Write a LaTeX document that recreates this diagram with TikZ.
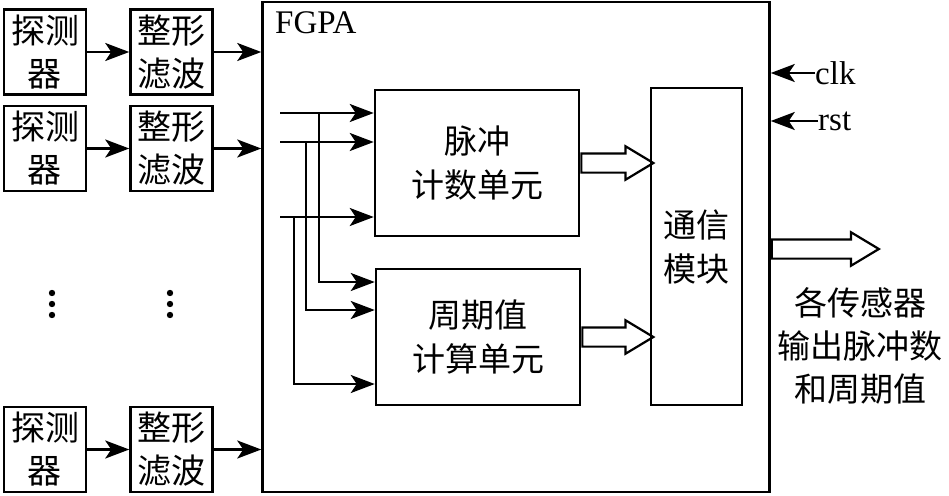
\documentclass[tikz,border=0pt]{standalone}
\usepackage{fontspec}
\setmainfont{Liberation Serif}
\newfontfamily\cjk{Noto Sans CJK SC}
\usetikzlibrary{arrows.meta, positioning, shapes.arrows}

\begin{document}
\begin{tikzpicture}[x=1pt, y=-1pt,
    node distance=9pt and 42pt,
    box/.style={rectangle, draw=black, line width=2.5pt, minimum width=82pt, minimum height=85pt,
                inner sep=0pt, align=center, font=\cjk\fontsize{34}{43}\selectfont},
    unit/.style={rectangle, draw=black, line width=2.5pt, inner sep=0pt, align=center,
                 font=\cjk\fontsize{33}{44}\selectfont},
    arrow/.style={-{Stealth[length=24pt, width=18pt, inset=6pt]}, line width=2.5pt},
    bus/.style={single arrow, draw=black, line width=2.2pt, minimum width=31pt, inner sep=8.5pt,
                single arrow tip angle=62, anchor=tail},
    latin/.style={font=\fontsize{33}{40}\selectfont, inner sep=0pt}
]
\useasboundingbox (0,0) rectangle (949,495);

% sensor chains
\node[box] (det1) at (45,52) {探测\\器};
\node[box, right=of det1] (shp1) {整形\\滤波};
\node[box, below=of det1] (det2) {探测\\器};
\node[box, right=of det2] (shp2) {整形\\滤波};
\node[box] (det3) at (45,449.5) {探测\\器};
\node[box, right=of det3] (shp3) {整形\\滤波};

\foreach \x in {52,170}
  \foreach \y in {293,304,315}
    \fill (\x,\y) circle (3.2pt);

% FPGA and its blocks
\node[rectangle, draw=black, line width=2.5pt, minimum width=507pt, minimum height=490pt] (fpga) at (516,247) {};
\node[latin, anchor=north west] (fpganame) at (275,11) {FGPA};

\node[unit, minimum width=204pt, minimum height=146pt] (pulse)  at (477,163) {脉冲\\计数单元};
\node[unit, minimum width=204pt, minimum height=136pt] (period) at (478,337) {周期值\\计算单元};
\node[unit, minimum width=91pt,  minimum height=317pt] (comm)   at (696.5,246.5) {通信\\模块};

\draw[arrow] (det1) -- (shp1);
\draw[arrow] (det2) -- (shp2);
\draw[arrow] (det3) -- (shp3);
\draw[arrow] (shp1) -- (shp1 -| fpga.west);
\draw[arrow] (shp2) -- (shp2 -| fpga.west);
\draw[arrow] (shp3) -- (shp3 -| fpga.west);

% internal signal lines
\coordinate (in1) at (280,113);
\coordinate (in2) at (280,142);
\coordinate (in3) at (280,217);
\coordinate (br1) at (319,113);
\coordinate (br2) at (306,142);
\coordinate (br3) at (294,217);
\draw[arrow] (in1) -- (in1 -| pulse.west);
\draw[arrow] (in2) -- (in2 -| pulse.west);
\draw[arrow] (in3) -- (in3 -| pulse.west);
\draw[arrow] (br1) |- (period.west |- 0,282);
\draw[arrow] (br2) |- (period.west |- 0,310);
\draw[arrow] (br3) |- (period.west |- 0,384);

\node[bus, minimum height=72pt]  (bus1) at (pulse.east) {};
\node[bus, minimum height=71pt]  (bus2) at (period.east) {};
\node[bus, minimum height=107pt] (bus3) at (fpga.east |- 0,249) {};

% clock and reset
\node[latin, anchor=west] (clk) at (815,73) {clk};
\node[latin, anchor=west] (rst) at (818,121) {rst};
\draw[arrow] (clk.west) -- (clk.west -| fpga.east);
\draw[arrow] (rst.west) -- (rst.west -| fpga.east);

\node[align=center, font=\cjk\fontsize{33}{43}\selectfont] (outtext) at (860,346) {各传感器\\输出脉冲数\\和周期值};

\end{tikzpicture}
\end{document}
